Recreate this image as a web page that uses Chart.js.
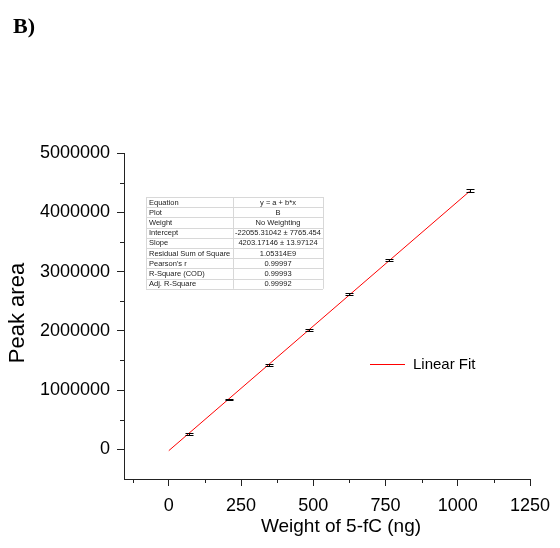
<!DOCTYPE html>
<html>
<head>
<meta charset="utf-8">
<script src="https://cdn.jsdelivr.net/npm/chart.js@4.4.0/dist/chart.umd.min.js"></script>
<style>
  html, body { margin: 0; padding: 0; background: #fff; }
</style>
</head>
<body>
<canvas id="chart" width="560" height="548"></canvas>
<script>
// data
var weights = [69.4, 208.2, 347, 485.8, 624.6, 763.4, 1041];
var areas = [262000, 848000, 1428000, 2018000, 2615000, 3190000, 4370000];
var areaErr = [12000, 10000, 14000, 18000, 16000, 14000, 30000];

// linear fit end points (y = a + b*x)
var fitX = [0, 1041];
var fitY = [-22055, 4353360];

var xTicks = [0, 250, 500, 750, 1000, 1250];
var xMinor = [-125, 125, 375, 625, 875, 1125];
var yTicks = [0, 1000000, 2000000, 3000000, 4000000, 5000000];
var yMinor = [500000, 1500000, 2500000, 3500000, 4500000];

var tableLabels = ['Equation', 'Plot', 'Weight', 'Intercept', 'Slope', 'Residual Sum of Square', "Pearson's r", 'R-Square (COD)', 'Adj. R-Square'];
var tableValues = ['y = a + b*x', 'B', 'No Weighting', '-22055.31042 \u00b1 7765.454', '4203.17146 \u00b1 13.97124', '1.05314E9', '0.99997', '0.99993', '0.99992'];

var FONT = "'Liberation Sans', Arial, sans-serif";

var extras = {
    id: 'extras',
    afterDraw: function (chart) {
        var ctx = chart.ctx;
        var xs = chart.scales.x, ys = chart.scales.y;
        var area = chart.chartArea;
        ctx.save();

        // minor ticks
        ctx.strokeStyle = '#222';
        ctx.lineWidth = 1;
        ctx.beginPath();
        xMinor.forEach(function (v) {
            var px = Math.round(xs.getPixelForValue(v)) + 0.5;
            ctx.moveTo(px, area.bottom);
            ctx.lineTo(px, area.bottom + 4);
        });
        yMinor.forEach(function (v) {
            var py = Math.round(ys.getPixelForValue(v)) + 0.5;
            ctx.moveTo(area.left, py);
            ctx.lineTo(area.left - 4, py);
        });
        ctx.stroke();

        // error bars
        ctx.strokeStyle = '#000';
        ctx.beginPath();
        weights.forEach(function (w, i) {
            var px = Math.round(xs.getPixelForValue(w)) + 0.5;
            var t = Math.round(ys.getPixelForValue(areas[i] + areaErr[i])) + 0.5;
            var b = Math.round(ys.getPixelForValue(areas[i] - areaErr[i])) + 0.5;
            ctx.moveTo(px, t); ctx.lineTo(px, b);
            ctx.moveTo(px - 4, t); ctx.lineTo(px + 4, t);
            ctx.moveTo(px - 4, b); ctx.lineTo(px + 4, b);
        });
        ctx.stroke();

        // axis titles
        ctx.fillStyle = '#000';
        ctx.font = '19px ' + FONT;
        ctx.textAlign = 'center';
        ctx.textBaseline = 'middle';
        ctx.fillText('Weight of 5-fC (ng)', 341, 527);
        ctx.save();
        ctx.translate(18, 313);
        ctx.rotate(-Math.PI / 2);
        ctx.font = '22px ' + FONT;
        ctx.fillText('Peak area', 0, 0);
        ctx.restore();

        // panel letter
        ctx.font = "bold 22px 'Liberation Serif', 'Times New Roman', serif";
        ctx.textAlign = 'left';
        ctx.textBaseline = 'alphabetic';
        ctx.fillText('B)', 13, 33);

        // legend
        ctx.strokeStyle = '#ff0000';
        ctx.beginPath();
        ctx.moveTo(370, 364.5);
        ctx.lineTo(405, 364.5);
        ctx.stroke();
        ctx.font = '15px ' + FONT;
        ctx.textBaseline = 'middle';
        ctx.fillText('Linear Fit', 413, 365);

        // fit statistics table
        var tx0 = 146, tx1 = 233, tx2 = 323, ty0 = 197, rh = 10.2;
        ctx.strokeStyle = '#d8d8d8';
        ctx.beginPath();
        for (var r = 0; r <= tableLabels.length; r++) {
            var yy = Math.round(ty0 + r * rh) + 0.5;
            ctx.moveTo(tx0, yy); ctx.lineTo(tx2, yy);
        }
        ctx.moveTo(tx0 + 0.5, ty0); ctx.lineTo(tx0 + 0.5, ty0 + rh * tableLabels.length);
        ctx.moveTo(tx1 + 0.5, ty0); ctx.lineTo(tx1 + 0.5, ty0 + rh * tableLabels.length);
        ctx.moveTo(tx2 + 0.5, ty0); ctx.lineTo(tx2 + 0.5, ty0 + rh * tableLabels.length);
        ctx.stroke();
        ctx.fillStyle = '#222';
        ctx.font = '7.5px ' + FONT;
        for (var k = 0; k < tableLabels.length; k++) {
            var cy = ty0 + k * rh + rh / 2 + 0.5;
            ctx.textAlign = 'left';
            ctx.fillText(tableLabels[k], tx0 + 3, cy);
            ctx.textAlign = 'center';
            ctx.fillText(tableValues[k], (tx1 + tx2) / 2, cy);
        }
        ctx.restore();
    }
};

new Chart(document.getElementById('chart').getContext('2d'), {
    type: 'scatter',
    data: {
        datasets: [
            {
                label: 'Linear Fit',
                data: fitX.map(function (v, i) { return { x: v, y: fitY[i] }; }),
                showLine: true,
                borderColor: '#ff0000',
                borderWidth: 1,
                pointRadius: 0
            },
            {
                label: 'B',
                data: weights.map(function (v, i) { return { x: v, y: areas[i] }; }),
                showLine: false,
                pointRadius: 0
            }
        ]
    },
    options: {
        responsive: false,
        animation: false,
        devicePixelRatio: 1,
        layout: { padding: { left: 0, top: 153, right: 30, bottom: 0 } },
        plugins: { legend: { display: false }, tooltip: { enabled: false } },
        scales: {
            x: {
                type: 'linear',
                min: -155,
                max: 1250,
                afterBuildTicks: function (s) { s.ticks = xTicks.map(function (v) { return { value: v }; }); },
                afterFit: function (s) { s.height = 69; },
                grid: { drawOnChartArea: false, tickLength: 7, tickColor: '#222' },
                border: { color: '#222', width: 1 },
                ticks: {
                    color: '#000', padding: 9, font: { family: FONT, size: 18 },
                    callback: function (v) { return String(v); }
                }
            },
            y: {
                type: 'linear',
                min: -500000,
                max: 5000000,
                afterBuildTicks: function (s) { s.ticks = yTicks.map(function (v) { return { value: v }; }); },
                afterFit: function (s) { s.width = 124; },
                grid: { drawOnChartArea: false, tickLength: 7, tickColor: '#222' },
                border: { color: '#222', width: 1 },
                ticks: {
                    color: '#000', padding: 7, font: { family: FONT, size: 18 },
                    callback: function (v) { return String(v); }
                }
            }
        }
    },
    plugins: [extras]
});
</script>
</body>
</html>
